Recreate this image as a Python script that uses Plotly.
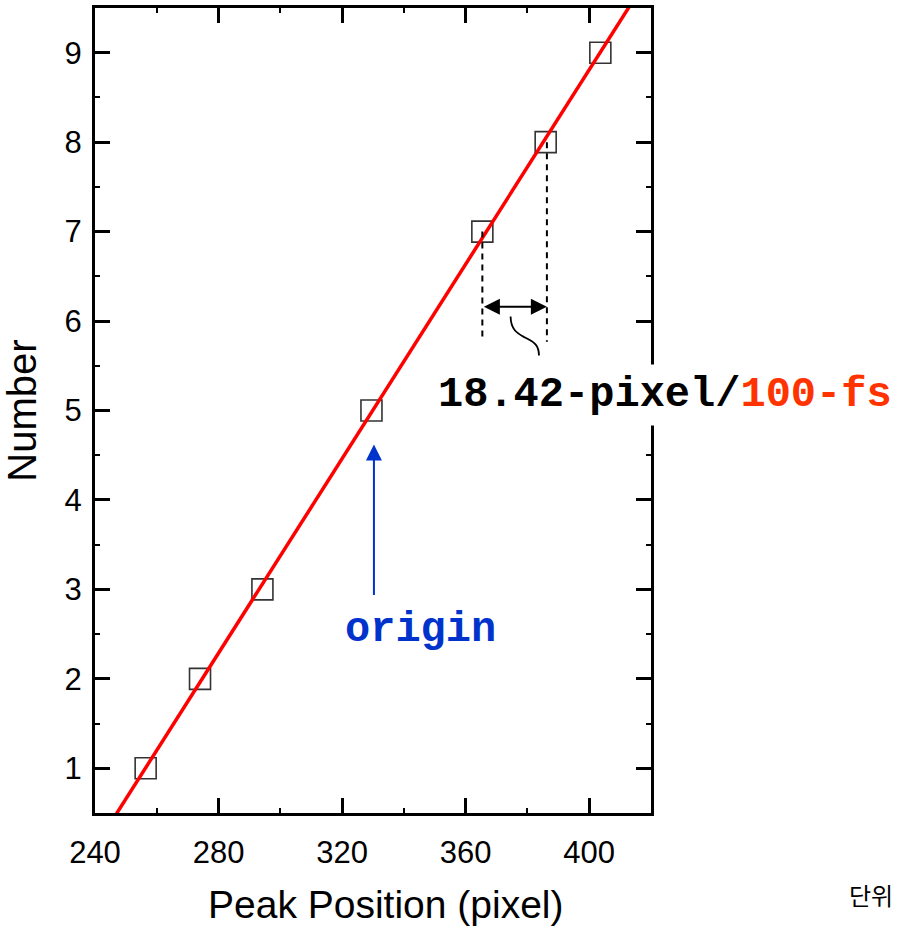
import plotly.graph_objects as go

# ---- data ----
peak_position = [256.4, 274.0, 294.2, 329.5, 365.4, 385.9, 403.6]
number = [1, 2, 3, 5, 7, 8, 9]

fit_x = [237.9, 421.9]
fit_y = [0, 10]

x_ticks = [240, 280, 320, 360, 400]
y_ticks = [1, 2, 3, 4, 5, 6, 7, 8, 9]

# annotation geometry (data units)
dash1_x, dash1_y = [365.4, 365.4], [7.0, 5.82]
dash2_x, dash2_y = [386.3, 386.3], [8.0, 5.77]
span_y = 6.16
origin_x, origin_tail_y, origin_head_y = 330.3, 2.92, 4.62
curve_pts = [(374.54, 6.050), (374.64, 5.894), (376.91, 5.860), (379.20, 5.816),
             (383.73, 5.749), (383.73, 5.615)]

fig = go.Figure()

fig.add_trace(go.Scatter(
    x=peak_position, y=number, mode="markers",
    marker=dict(symbol="square-open", size=21, color="#333333",
                line=dict(width=1.6, color="#333333")),
    showlegend=False, hoverinfo="skip"))

fig.add_trace(go.Scatter(
    x=fit_x, y=fit_y, mode="lines",
    line=dict(color="#ff0000", width=3.5),
    showlegend=False, hoverinfo="skip"))

# dashed guide lines
for dx, dy in [(dash1_x, dash1_y), (dash2_x, dash2_y)]:
    fig.add_shape(type="line", xref="x", yref="y",
                  x0=dx[0], x1=dx[1], y0=dy[0], y1=dy[1],
                  line=dict(color="black", width=2, dash="6px,5px"))

# S curve
p = curve_pts
path = (f"M {p[0][0]},{p[0][1]} C {p[1][0]},{p[1][1]} {p[2][0]},{p[2][1]} {p[3][0]},{p[3][1]} "
        f"S {p[4][0]},{p[4][1]} {p[5][0]},{p[5][1]}")
fig.add_shape(type="path", xref="x", yref="y", path=path,
              line=dict(color="black", width=1.8))

# double-headed arrow
fig.add_annotation(x=dash2_x[0], y=span_y, ax=dash1_x[0], ay=span_y,
                   xref="x", yref="y", axref="x", ayref="y", text="",
                   showarrow=True, arrowhead=2, startarrowhead=2,
                   arrowside="end+start", arrowsize=1.6, startarrowsize=1.6,
                   arrowwidth=2, arrowcolor="black")

# origin arrow
fig.add_annotation(x=origin_x, y=origin_head_y, ax=origin_x, ay=origin_tail_y,
                   xref="x", yref="y", axref="x", ayref="y", text="",
                   showarrow=True, arrowhead=2, arrowsize=1.6,
                   arrowwidth=2, arrowcolor="#0033cc")

mono = "Liberation Mono, Courier New, monospace"
fig.add_annotation(xref="paper", yref="paper", x=0.604, y=0.519,
                   xanchor="left", yanchor="middle", showarrow=False,
                   text="<b>18.42-pixel/<span style='color:#ff3300'>100-fs</span></b>",
                   font=dict(family=mono, size=42, color="black"),
                   bgcolor="white", borderpad=6)

fig.add_annotation(xref="paper", yref="paper", x=0.586, y=0.227,
                   xanchor="center", yanchor="middle", showarrow=False,
                   text="<b>origin</b>",
                   font=dict(family=mono, size=42, color="#0033cc"))

fig.add_annotation(xref="paper", yref="paper", x=1.352, y=-0.101,
                   xanchor="left", yanchor="middle", showarrow=False,
                   text="단위",
                   font=dict(family="Noto Sans CJK KR", size=24, color="black"))

sans = "Liberation Sans, Arial, sans-serif"

# x-axis title (placed as annotation for precise horizontal position)
fig.add_annotation(xref="paper", yref="paper", x=0.523, y=-0.114,
                   xanchor="center", yanchor="middle", showarrow=False,
                   text="Peak Position (pixel)",
                   font=dict(family=sans, size=39, color="black"))

axis_common = dict(showgrid=False, zeroline=False, showline=True, linewidth=3,
                   linecolor="black", mirror="allticks", ticks="inside",
                   ticklen=15, tickwidth=2.5, tickcolor="black",
                   tickfont=dict(family=sans, size=31, color="black"))

fig.update_xaxes(range=[240, 420], tickmode="array", tickvals=x_ticks,
                 ticktext=[str(v) for v in x_ticks],
                 minor=dict(dtick=20, tick0=240, ticks="inside", ticklen=5,
                            tickwidth=2, tickcolor="black"),
                 ticklabelstandoff=10,
                 **axis_common)
fig.update_yaxes(range=[0.5, 9.5], tickmode="array", tickvals=y_ticks,
                 ticktext=[str(v) for v in y_ticks],
                 minor=dict(dtick=0.5, tick0=0.5, ticks="inside", ticklen=5,
                            tickwidth=2, tickcolor="black"),
                 title=dict(text="Number", standoff=16,
                            font=dict(family=sans, size=40, color="black")),
                 ticklabelstandoff=4,
                 **axis_common)

fig.update_layout(width=899, height=928, autosize=False,
                  margin=dict(l=95, r=248, t=8, b=115, autoexpand=False),
                  plot_bgcolor="white", paper_bgcolor="white",
                  showlegend=False)

fig.write_html("out.html", config={"displayModeBar": False},
               post_script="document.body.style.margin='0px';document.body.style.overflow='hidden';")
